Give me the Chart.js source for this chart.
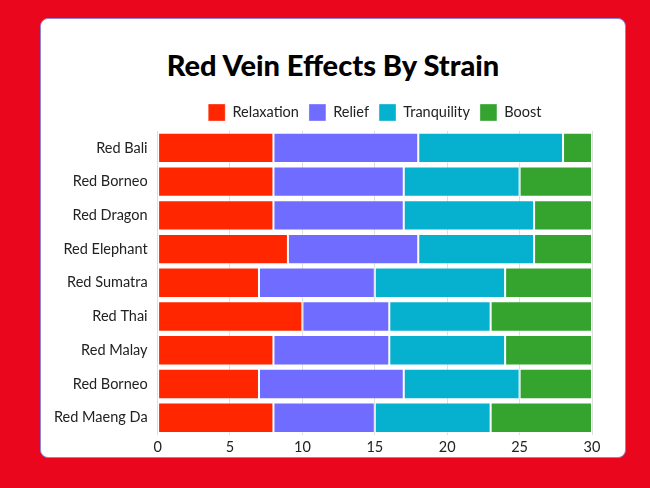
<!DOCTYPE html>
<html>
<head>
<meta charset="utf-8">
<script src="https://cdn.jsdelivr.net/npm/chart.js@4.4.0/dist/chart.umd.min.js"></script>
<style>
  html, body { margin: 0; padding: 0; }
  body { width: 650px; height: 488px; background: #ea061c; position: relative; overflow: hidden; }
  .card {
    position: absolute; left: 40px; top: 18px; width: 584px; height: 438px;
    background: #fff; border: 1px solid #8a86d8; border-radius: 8px;
  }
  .title {
    position: absolute; left: 0; top: 29px; width: 100%; margin: 0;
    text-align: center; font-family: Lato, sans-serif; font-weight: 900;
    font-size: 29px; line-height: 34px; color: #000;
  }
  .chart-box { position: absolute; left: 0; top: 0; width: 584px; height: 441px; }
</style>
</head>
<body>
<div class="card">
  <h1 class="title">Red Vein Effects By Strain</h1>
  <div class="chart-box"><canvas id="myChart"></canvas></div>
</div>
<script>
const strains = ['Red Bali', 'Red Borneo', 'Red Dragon', 'Red Elephant', 'Red Sumatra', 'Red Thai', 'Red Malay', 'Red Borneo', 'Red Maeng Da']
const relaxation = [8, 8, 8, 9, 7, 10, 8, 7, 8]
const relief = [10, 9, 9, 9, 8, 6, 8, 10, 7]
const tranquility = [10, 8, 9, 8, 9, 7, 8, 8, 8]
const boost = [2, 5, 4, 4, 6, 7, 6, 5, 7]

const ctx = document.getElementById('myChart').getContext('2d')
const labelFont = { family: 'Lato', size: 14.5 }

const makeSet = (label, data, color) => ({
    label: label,
    data: data,
    backgroundColor: color,
    borderColor: 'rgba(255,255,255,0.35)',
    borderWidth: 1,
    borderSkipped: false,
    barPercentage: 0.9,
    categoryPercentage: 1
})

new Chart(ctx, {
    type: 'bar',
    data: {
        labels: strains,
        datasets: [
            makeSet('Relaxation', relaxation, '#ff2600'),
            makeSet('Relief', relief, '#706cff'),
            makeSet('Tranquility', tranquility, '#06b1cf'),
            makeSet('Boost', boost, '#34a42f')
        ]
    },
    options: {
        indexAxis: 'y',
        responsive: true,
        maintainAspectRatio: false,
        animation: false,
        layout: { padding: { left: 3, right: 33, top: 75, bottom: 0 } },
        plugins: {
            legend: {
                fullSize: false,
                labels: {
                    boxWidth: 17,
                    boxHeight: 17,
                    color: '#222',
                    font: labelFont,
                    padding: 10
                }
            },
            tooltip: { enabled: false }
        },
        scales: {
            x: {
                stacked: true,
                min: 0,
                max: 30,
                ticks: { stepSize: 5, color: '#222', font: labelFont, padding: 4 },
                grid: { color: '#dedede', drawTicks: false },
                border: { display: false }
            },
            y: {
                stacked: true,
                ticks: { color: '#222', font: labelFont, padding: 10 },
                grid: { display: false, drawTicks: false },
                border: { display: false }
            }
        }
    }
})
</script>
</body>
</html>
